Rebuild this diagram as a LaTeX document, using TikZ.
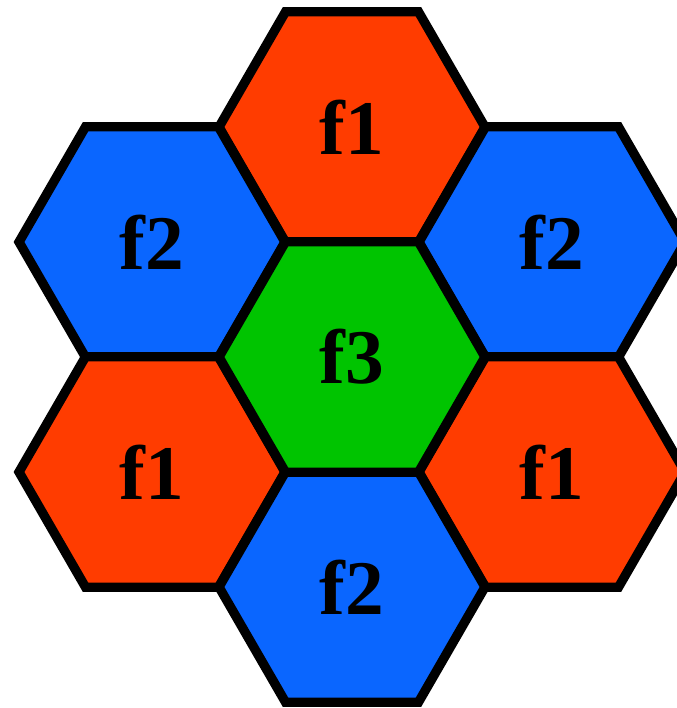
\documentclass[tikz,border=0pt]{standalone}
\usepackage{fontspec}
\setmainfont{Liberation Serif}
\usetikzlibrary{shapes.geometric}
\definecolor{cellRed}{HTML}{FF3C00}
\definecolor{cellBlue}{HTML}{0A66FF}
\definecolor{cellGreen}{HTML}{00C400}
\tikzset{
  cell/.style={regular polygon, regular polygon sides=6, draw=black, line width=7pt,
    minimum size=199.5pt, inner sep=0pt, outer sep=0pt, line join=miter,
    font=\fontsize{58}{58}\selectfont\bfseries},
  fa/.style={cell, fill=cellRed},
  fb/.style={cell, fill=cellBlue},
  fc/.style={cell, fill=cellGreen},
}
\begin{document}
\begin{tikzpicture}[x=0.75pt, y=-0.75pt]
\useasboundingbox (0,0) rectangle (676,708);
% ring of cells round the centre
\node[fa] (top)      at (352,127) {f1};
\node[fb] (upleft)   at (152,242) {f2};
\node[fb] (upright)  at (552,242) {f2};
\node[fa] (lowleft)  at (152,472) {f1};
\node[fa] (lowright) at (552,472) {f1};
\node[fb] (bottom)   at (352,587) {f2};
% centre cell
\node[fc] (centre)   at (352,357) {f3};
\end{tikzpicture}
\end{document}
